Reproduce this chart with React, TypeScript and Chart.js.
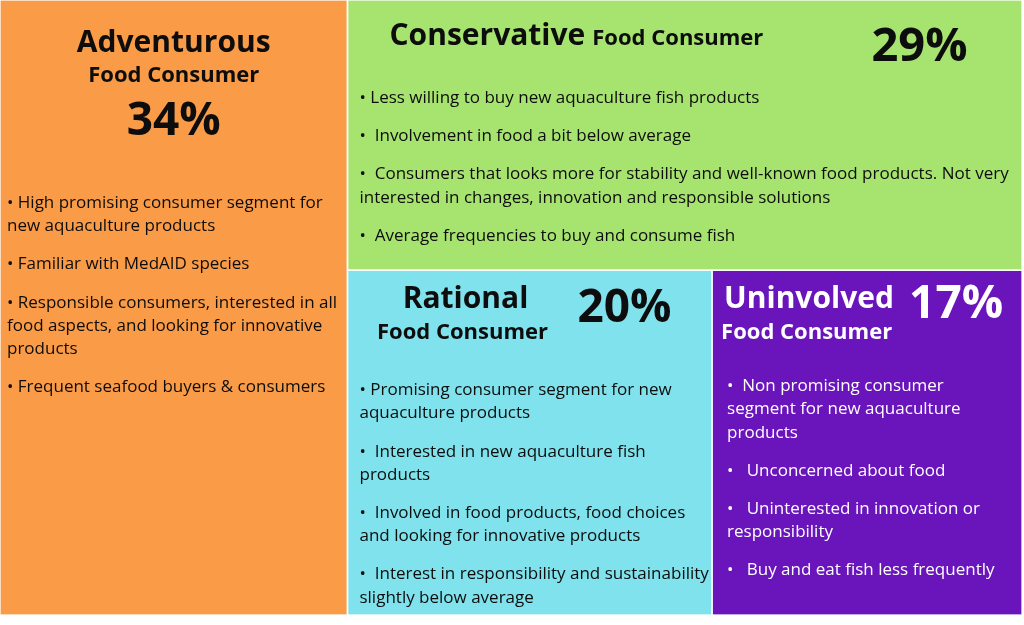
import React, { useEffect, useRef } from "react";
import { Chart, registerables } from "chart.js";

Chart.register(...registerables);

// ---------- data ----------
const segmentNames = ["Adventurous", "Conservative", "Rational", "Uninvolved"];
const segmentShares = [34, 29, 20, 17];
const segmentSubtitle = "Food Consumer";
const segmentColors = ["#FA9B47", "#A7E36F", "#7FE2EC", "#6A14BC"];
const segmentTextColors = ["#0D0D0D", "#0D0D0D", "#0D0D0D", "#FFFFFF"];

const adventurousNotes = [
  ["• High promising consumer segment for", "new aquaculture products"],
  ["• Familiar with MedAID species"],
  ["• Responsible consumers, interested in all", "food aspects, and looking for innovative", "products"],
  ["• Frequent seafood buyers & consumers"],
];
const conservativeNotes = [
  ["• Less willing to buy new aquaculture fish products"],
  ["•  Involvement in food a bit below average"],
  [
    "•  Consumers that looks more for stability and well-known food products. Not very",
    "interested in changes, innovation and responsible solutions",
  ],
  ["•  Average frequencies to buy and consume fish"],
];
const rationalNotes = [
  ["• Promising consumer segment for new", "aquaculture products"],
  ["•  Interested in new aquaculture fish", "products"],
  ["•  Involved in food products, food choices", "and looking for innovative products"],
  ["•  Interest in responsibility and sustainability", "slightly below average"],
];
const uninvolvedNotes = [
  ["•  Non promising consumer", "segment for new aquaculture", "products"],
  ["•   Unconcerned about food"],
  ["•   Uninterested in innovation or", "responsibility"],
  ["•   Buy and eat fish less frequently"],
];
const segmentNotes = [adventurousNotes, conservativeNotes, rationalNotes, uninvolvedNotes];

// ---------- layout / style (text placement relative to each tile, in px) ----------
const FONT = "'Open Sans', Lato, sans-serif";
const NAME_FONT = `bold 30px ${FONT}`;
const SUB_FONT = `bold 22px ${FONT}`;
const PCT_FONT = `bold 46px ${FONT}`;
const NOTE_FONT = `17px ${FONT}`;
const titleLayout = [
  { mode: "stack", nameX: 0.5, nameY: 52, subX: 0.5, subY: 82, pctX: 0.5, pctY: 135, notesX: 7, notesY: 208 },
  { mode: "inline", nameX: 42, nameY: 45, pctX: 524, pctY: 61, notesX: 12, notesY: 103 },
  { mode: "side", nameX: 118, nameY: 38, subX: 115, subY: 69, pctX: 230, pctY: 52, notesX: 12, notesY: 125, center: true },
  { mode: "side", nameX: 12, nameY: 38, subX: 9, subY: 69, pctX: 197, pctY: 48, notesX: 15, notesY: 121, center: false },
];

// slice-and-dice treemap layout in value space (0..100 x 0..100)
function layoutTiles(values: number[]) {
  let x0 = 0, y0 = 0, x1 = 100, y1 = 100;
  let remaining = values.reduce((a, b) => a + b, 0);
  const tiles: { x0: number; y0: number; x1: number; y1: number }[] = [];
  values.forEach((v, i) => {
    if (i === values.length - 1) {
      tiles.push({ x0, y0, x1, y1 });
      return;
    }
    const frac = v / remaining;
    if (i % 2 === 0) {
      const xm = x0 + (x1 - x0) * frac;
      tiles.push({ x0, y0, x1: xm, y1 });
      x0 = xm;
    } else {
      const ym = y0 + (y1 - y0) * frac;
      tiles.push({ x0, y0, x1, y1: ym });
      y0 = ym;
    }
    remaining -= v;
  });
  return tiles;
}

const tiles = layoutTiles(segmentShares);

const textPlugin = {
  id: "segmentText",
  afterDatasetsDraw(chart: any) {
    const ctx = chart.ctx as CanvasRenderingContext2D;
    const xs = chart.scales.x;
    const ys = chart.scales.y;
    tiles.forEach((t, i) => {
      const left = xs.getPixelForValue(t.x0);
      const right = xs.getPixelForValue(t.x1);
      const top = ys.getPixelForValue(t.y0);
      const bottom = ys.getPixelForValue(t.y1);
      // separators
      ctx.save();
      ctx.strokeStyle = "rgba(255,255,255,0.85)";
      ctx.lineWidth = 1.5;
      ctx.strokeRect(left, top, right - left, bottom - top);
      ctx.restore();

      const L = titleLayout[i];
      const w = right - left;
      ctx.save();
      ctx.fillStyle = segmentTextColors[i];
      ctx.textBaseline = "alphabetic";
      const name = segmentNames[i];
      const pct = `${segmentShares[i]}%`;
      if (L.mode === "stack") {
        ctx.textAlign = "center";
        ctx.font = NAME_FONT;
        ctx.fillText(name, left + w * L.nameX, top + L.nameY);
        ctx.font = SUB_FONT;
        ctx.fillText(segmentSubtitle, left + w * (L.subX as number), top + (L.subY as number));
        ctx.font = PCT_FONT;
        ctx.fillText(pct, left + w * L.pctX, top + L.pctY);
      } else if (L.mode === "inline") {
        ctx.textAlign = "left";
        ctx.font = NAME_FONT;
        ctx.fillText(name, left + L.nameX, top + L.nameY);
        const nw = ctx.measureText(name).width;
        ctx.font = SUB_FONT;
        ctx.fillText(segmentSubtitle, left + L.nameX + nw + 7, top + L.nameY);
        ctx.font = `bold 47px ${FONT}`;
        ctx.fillText(pct, left + L.pctX, top + L.pctY);
      } else {
        ctx.textAlign = L.center ? "center" : "left";
        ctx.font = NAME_FONT;
        ctx.fillText(name, left + L.nameX, top + L.nameY);
        ctx.font = SUB_FONT;
        ctx.fillText(segmentSubtitle, left + (L.subX as number), top + (L.subY as number));
        ctx.textAlign = "left";
        ctx.font = PCT_FONT;
        ctx.fillText(pct, left + L.pctX, top + L.pctY);
      }
      // notes
      ctx.textAlign = "left";
      ctx.font = NOTE_FONT;
      const lineH = 23.2;
      const paraGap = 15;
      let y = top + L.notesY;
      segmentNotes[i].forEach((para) => {
        para.forEach((line) => {
          ctx.fillText(line, left + L.notesX, y);
          y += lineH;
        });
        y += paraGap;
      });
      ctx.restore();
    });
  },
};

export default function App() {
  const canvasRef = useRef<HTMLCanvasElement | null>(null);

  useEffect(() => {
    document.body.style.margin = "0";
    document.body.style.background = "#ffffff";
    const canvas = canvasRef.current;
    if (!canvas) return;
    const datasets = tiles.map((t, i) => ({
      label: segmentNames[i],
      data: [
        { x: t.x0, y: t.y0 },
        { x: t.x1, y: t.y0 },
      ],
      showLine: true,
      borderWidth: 0,
      borderColor: segmentColors[i],
      backgroundColor: segmentColors[i],
      pointRadius: 0,
      pointHoverRadius: 0,
      fill: { value: t.y1 },
      tension: 0,
      clip: false as any,
    }));
    const chart = new Chart(canvas, {
      type: "scatter",
      data: { datasets },
      options: {
        animation: false,
        responsive: false,
        maintainAspectRatio: false,
        events: [],
        layout: { padding: { left: 0, right: 2, top: 0, bottom: 10 } },
        scales: {
          x: { type: "linear", min: 0, max: 100, display: false },
          y: { type: "linear", min: 0, max: 100, reverse: true, display: false },
        },
        plugins: {
          legend: { display: false },
          tooltip: { enabled: false },
          filler: { propagate: false },
        },
      },
      plugins: [textPlugin],
    });
    return () => chart.destroy();
  }, []);

  return (
    <div style={{ width: 1024, height: 625 }}>
      <canvas ref={canvasRef} width={1024} height={625} style={{ display: "block" }} />
    </div>
  );
}
